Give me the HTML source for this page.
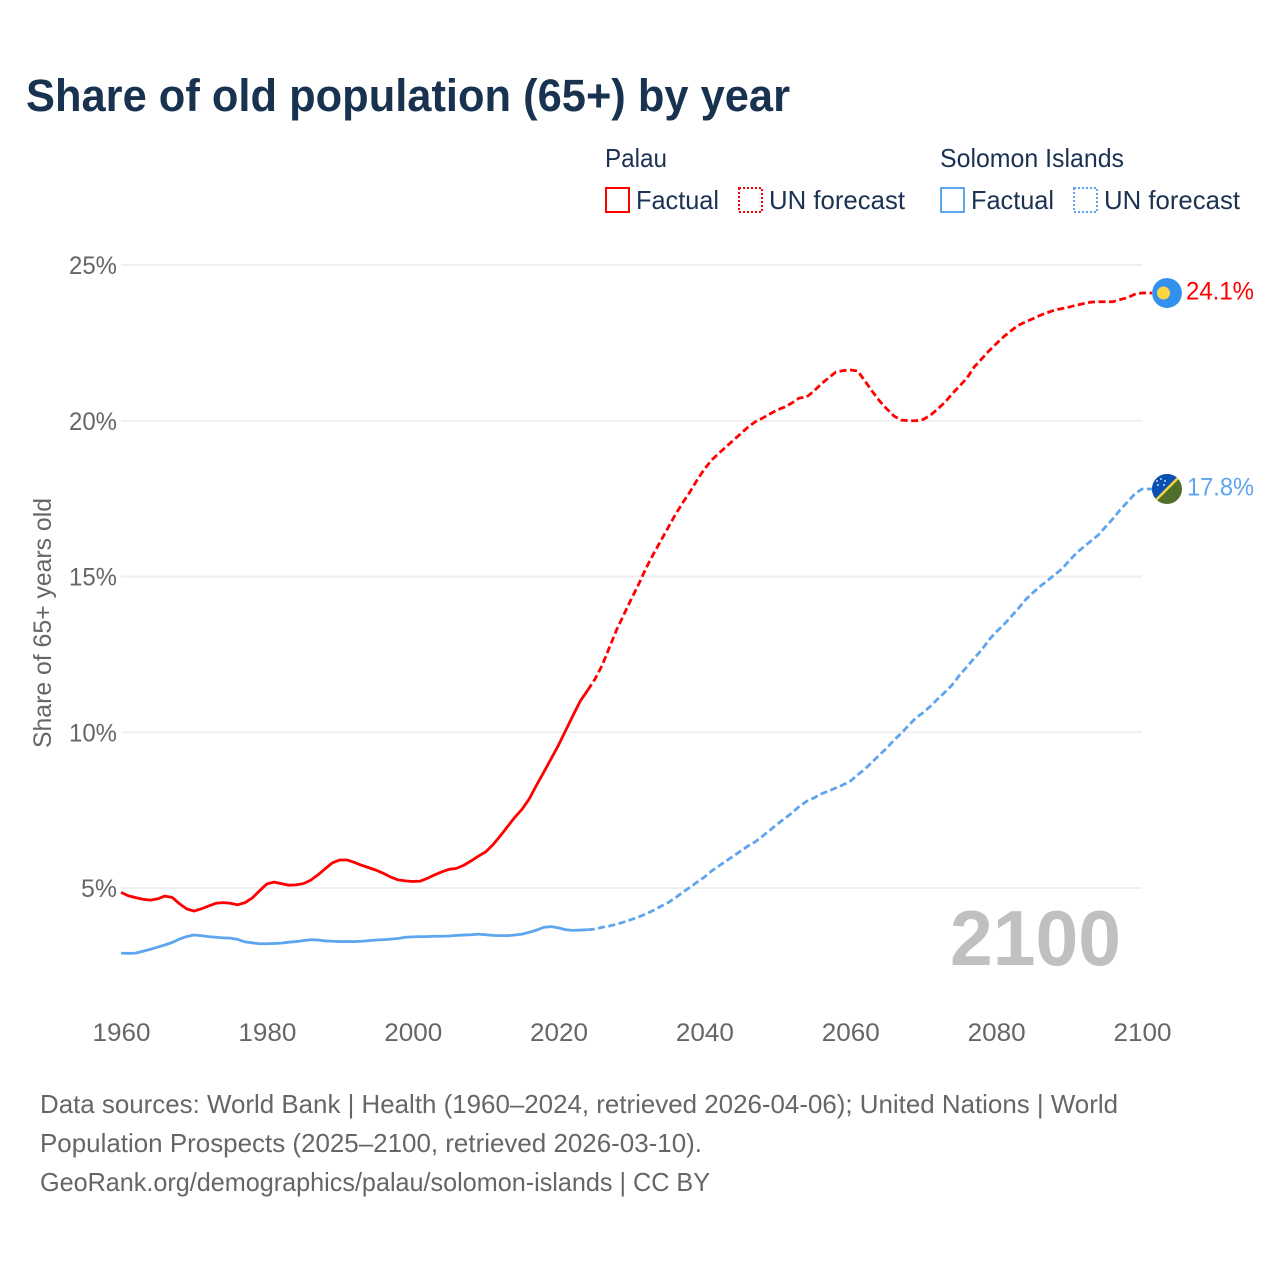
<!DOCTYPE html>
<html lang="en">
<head>
<meta charset="utf-8">
<title>Share of old population (65+) by year</title>
<style>
html,body{margin:0;padding:0;background:#fff;}
svg{display:block;font-family:"Liberation Sans",sans-serif;}
</style>
</head>
<body>
<svg id="chart" xmlns="http://www.w3.org/2000/svg" width="1280" height="1280" viewBox="0 0 1280 1280">
  <defs>
    <clipPath id="flag-clip"><circle cx="0" cy="0" r="15"></circle></clipPath>
  </defs>
  <rect width="1280" height="1280" fill="#ffffff"></rect>
  <text x="26" y="111" font-size="45" font-weight="700" fill="#18324f" textLength="764" lengthAdjust="spacingAndGlyphs">Share of old population (65+) by year</text>

  <g font-size="26" fill="#1b3252">
    <text x="605" y="167" textLength="62" lengthAdjust="spacingAndGlyphs">Palau</text>
    <text x="940" y="167" textLength="184" lengthAdjust="spacingAndGlyphs">Solomon Islands</text>
    <rect x="606" y="188" width="23" height="24" fill="none" stroke="#ff0000" stroke-width="2"></rect>
    <text x="636" y="209" textLength="83" lengthAdjust="spacingAndGlyphs">Factual</text>
    <rect x="739" y="188" width="23" height="24" fill="none" stroke="#ff0000" stroke-width="2" stroke-dasharray="2 2"></rect>
    <text x="769" y="209" textLength="136" lengthAdjust="spacingAndGlyphs">UN forecast</text>
    <rect x="941" y="188" width="23" height="24" fill="none" stroke="#5da5ee" stroke-width="2"></rect>
    <text x="971" y="209" textLength="83" lengthAdjust="spacingAndGlyphs">Factual</text>
    <rect x="1074" y="188" width="23" height="24" fill="none" stroke="#5da5ee" stroke-width="2" stroke-dasharray="2 2"></rect>
    <text x="1104" y="209" textLength="136" lengthAdjust="spacingAndGlyphs">UN forecast</text>
  </g>

  <text transform="translate(51,623) rotate(-90)" text-anchor="middle" font-size="25" fill="#666666" textLength="250" lengthAdjust="spacingAndGlyphs">Share of 65+ years old</text>
  <g id="grid"></g>
  <g id="y-ticks"></g>
  <g id="x-ticks"></g>
  <text x="950" y="965" font-size="78" font-weight="700" fill="#c0c0c0" textLength="171" lengthAdjust="spacingAndGlyphs">2100</text>
  <g id="series"></g>
  <g id="ends"></g>

  <g font-size="26" fill="#666666">
    <text x="40" y="1113" textLength="1078" lengthAdjust="spacingAndGlyphs">Data sources: World Bank | Health (1960–2024, retrieved 2026-04-06); United Nations | World</text>
    <text x="40" y="1152" textLength="662" lengthAdjust="spacingAndGlyphs">Population Prospects (2025–2100, retrieved 2026-03-10).</text>
    <text x="40" y="1191" textLength="670" lengthAdjust="spacingAndGlyphs">GeoRank.org/demographics/palau/solomon-islands | CC BY</text>
  </g>
</svg>
<script>
const firstYear = 1960;
const lastFactualYear = 2024;
const yTickValues = [5, 10, 15, 20, 25];
const yTickLabels = ['5%', '10%', '15%', '20%', '25%'];
const xTickValues = [1960, 1980, 2000, 2020, 2040, 2060, 2080, 2100];
const xTickLabels = ['1960', '1980', '2000', '2020', '2040', '2060', '2080', '2100'];
const palauValues = [
  4.86,4.75,4.69,4.64,4.61,4.65,4.74,4.70,4.50,4.33,
  4.26,4.33,4.42,4.51,4.53,4.51,4.46,4.53,4.68,4.91,
  5.13,5.19,5.14,5.09,5.10,5.14,5.25,5.42,5.62,5.81,
  5.90,5.90,5.82,5.73,5.65,5.57,5.47,5.35,5.26,5.23,
  5.21,5.22,5.31,5.42,5.52,5.60,5.63,5.73,5.87,6.02,
  6.16,6.39,6.67,6.97,7.27,7.53,7.87,8.31,8.73,9.16,
  9.59,10.07,10.55,11.01,11.35,
  11.71,12.16,12.74,13.31,13.80,14.29,14.76,15.27,15.72,16.14,
  16.56,16.98,17.36,17.71,18.10,18.45,18.74,18.96,19.17,19.38,
  19.59,19.80,19.97,20.09,20.22,20.35,20.44,20.57,20.73,20.76,
  20.95,21.18,21.37,21.56,21.61,21.63,21.60,21.28,20.95,20.64,
  20.38,20.15,20.02,20.00,20.00,20.04,20.18,20.38,20.60,20.87,
  21.12,21.37,21.73,21.98,22.24,22.47,22.69,22.88,23.06,23.17,
  23.27,23.38,23.47,23.55,23.60,23.65,23.71,23.76,23.81,23.82,
  23.82,23.82,23.89,23.95,24.06,24.10
];
const solomonValues = [
  2.91,2.90,2.91,2.97,3.03,3.10,3.17,3.25,3.36,3.44,
  3.49,3.47,3.44,3.42,3.40,3.39,3.35,3.27,3.24,3.21,
  3.21,3.22,3.23,3.26,3.28,3.31,3.34,3.33,3.30,3.29,
  3.28,3.28,3.28,3.29,3.31,3.33,3.34,3.36,3.38,3.42,
  3.43,3.44,3.44,3.45,3.45,3.46,3.48,3.49,3.50,3.52,
  3.50,3.48,3.47,3.47,3.49,3.52,3.58,3.65,3.74,3.76,
  3.72,3.66,3.64,3.65,3.66,
  3.68,3.74,3.78,3.84,3.91,3.99,4.07,4.17,4.28,4.41,
  4.53,4.68,4.86,5.02,5.19,5.35,5.55,5.71,5.87,6.03,
  6.19,6.35,6.49,6.67,6.86,7.05,7.23,7.41,7.62,7.78,
  7.89,8.02,8.11,8.21,8.31,8.43,8.63,8.82,9.04,9.27,
  9.49,9.75,9.97,10.22,10.46,10.63,10.84,11.07,11.29,11.53,
  11.84,12.10,12.38,12.64,12.96,13.22,13.44,13.70,13.96,14.25,
  14.47,14.68,14.86,15.05,15.24,15.50,15.75,15.95,16.14,16.33,
  16.59,16.85,17.14,17.39,17.65,17.81
];
const palauEndLabel = '24.1%';
const solomonEndLabel = '17.8%';

const SVG_NS = 'http://www.w3.org/2000/svg';
function xScale(year) { return 121 + (year - 1960) * (1142 - 121) / 140; }
function yScale(value) { return 888 - (value - 5) * (888 - 265) / 20; }
function make(tag, attrs, parent) {
  const el = document.createElementNS(SVG_NS, tag);
  for (const key in attrs) el.setAttribute(key, attrs[key]);
  parent.appendChild(el);
  return el;
}
function buildPath(values, startIndex, endIndex, tail) {
  let d = '';
  for (let i = startIndex; i <= endIndex; i++) {
    const year = firstYear + i;
    d += (i === startIndex ? 'M' : 'L') + xScale(year).toFixed(2) + ' ' + yScale(values[i]).toFixed(2);
  }
  if (tail) d += 'L' + (xScale(firstYear + endIndex) + 10).toFixed(2) + ' ' + yScale(values[endIndex]).toFixed(2);
  return d;
}

const gridGroup = document.getElementById('grid');
const yTickGroup = document.getElementById('y-ticks');
yTickValues.forEach(function (value, i) {
  const line = make('line', {x1: 121, x2: 1142, y1: yScale(value), y2: yScale(value), stroke: '#efefef', 'stroke-width': 2}, gridGroup);
  
  
  const label = make('text', {x: 117, y: yScale(value) + 9, 'text-anchor': 'end', 'font-size': 25, fill: '#666666', textLength: i === 0 ? 36 : 48, lengthAdjust: 'spacingAndGlyphs'}, yTickGroup);
  label.textContent = yTickLabels[i];
  
  
});

const xTickGroup = document.getElementById('x-ticks');
xTickValues.forEach(function (year, i) {
  const label = make('text', {x: xScale(year) + 0.5, y: 1041, 'text-anchor': 'middle', 'font-size': 25, fill: '#666666', textLength: 58, lengthAdjust: 'spacingAndGlyphs'}, xTickGroup);
  label.textContent = xTickLabels[i];
  
  
});

const seriesGroup = document.getElementById('series');
const factualEnd = lastFactualYear - firstYear;

const palauFactual = make('path', {d: buildPath(palauValues, 0, factualEnd, false), fill: 'none', stroke: '#ff0000', 'stroke-width': 2.8, 'stroke-linejoin': 'round'}, seriesGroup);


const palauForecast = make('path', {d: buildPath(palauValues, factualEnd, palauValues.length - 1, true), fill: 'none', stroke: '#ff0000', 'stroke-width': 2.8, 'stroke-dasharray': '7 3.5', 'stroke-linejoin': 'round'}, seriesGroup);


const solomonFactual = make('path', {d: buildPath(solomonValues, 0, factualEnd, false), fill: 'none', stroke: '#5da5ee', 'stroke-width': 2.8, 'stroke-linejoin': 'round'}, seriesGroup);


const solomonForecast = make('path', {d: buildPath(solomonValues, factualEnd, solomonValues.length - 1, true), fill: 'none', stroke: '#5da5ee', 'stroke-width': 2.8, 'stroke-dasharray': '7 3.5', 'stroke-linejoin': 'round'}, seriesGroup);



const endsGroup = document.getElementById('ends');
const lastYear = firstYear + palauValues.length - 1;
const flagX = xScale(lastYear) + 25;

const palauY = yScale(palauValues[palauValues.length - 1]);
const palauFlag = make('g', {transform: 'translate(' + flagX + ',' + palauY + ')', 'clip-path': 'url(#flag-clip)'}, endsGroup);


make('circle', {cx: 0, cy: 0, r: 15, fill: '#3390ee'}, palauFlag);
make('circle', {cx: -3.5, cy: 0, r: 6.5, fill: '#fcd53f'}, palauFlag);
const palauLabel = make('text', {x: flagX + 19, y: palauY + 6.5, 'font-size': 25, fill: '#ff0000', textLength: 68, lengthAdjust: 'spacingAndGlyphs'}, endsGroup);
palauLabel.textContent = palauEndLabel;



const solomonY = yScale(solomonValues[solomonValues.length - 1]);
const solomonFlag = make('g', {transform: 'translate(' + flagX + ',' + solomonY + ')', 'clip-path': 'url(#flag-clip)'}, endsGroup);


make('rect', {x: -15, y: -15, width: 30, height: 30, fill: '#4f6f2a'}, solomonFlag);
make('polygon', {points: '-15,-15 15,-15 -15,15', fill: '#0a4fb3'}, solomonFlag);
make('line', {x1: -15, y1: 15, x2: 15, y2: -15, stroke: '#f5d53f', 'stroke-width': 2.5}, solomonFlag);
[[-10, -8], [-6, -10], [-2, -8], [-9, -4], [-3, -4]].forEach(function (star) {
  make('circle', {cx: star[0], cy: star[1], r: 0.9, fill: '#ffffff'}, solomonFlag);
});
const solomonLabel = make('text', {x: flagX + 20, y: solomonY + 6.5, 'font-size': 25, fill: '#5da5ee', textLength: 67, lengthAdjust: 'spacingAndGlyphs'}, endsGroup);
solomonLabel.textContent = solomonEndLabel;


</script>
</body>
</html>
